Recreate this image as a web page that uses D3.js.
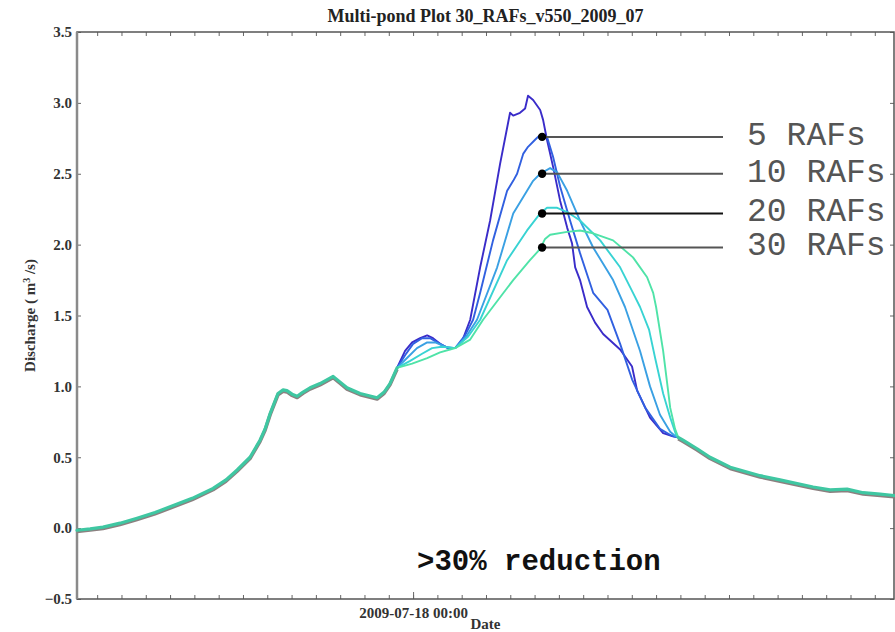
<!DOCTYPE html>
<html>
<head>
<meta charset="utf-8">
<script src="https://cdn.jsdelivr.net/npm/d3@7"></script>
<style>
  body { margin: 0; background: #fff; }
  .tick text { font-family: "Liberation Serif", serif; font-weight: bold; font-size: 15px; fill: #333; }
</style>
</head>
<body>
<div id="chart"></div>
<script>
const title = "Multi-pond Plot 30_RAFs_v550_2009_07";
const yTicks = [-0.5, 0, 0.5, 1, 1.5, 2, 2.5, 3, 3.5];
const midnight = new Date(2009, 6, 18, 0, 0); // the one labelled date tick
const hourRange = [-13.83, 19.79]; // hours relative to midnight

// shared hydrograph before the ponds take effect (hours, m3/s)
const beforeHours = [-13.83, -13.29, -12.76, -12.06, -11.36, -10.62, -10.0, -9.09, -8.23, -7.70, -7.24, -6.71, -6.30, -6.09, -5.88, -5.56, -5.35, -5.19, -4.98, -4.77, -4.53, -4.24, -3.83, -3.29, -3.00, -2.72, -2.18, -1.48, -1.19, -0.95, -0.66];
const beforeQ = [-0.015, -0.005, 0.007, 0.035, 0.07, 0.11, 0.15, 0.21, 0.28, 0.34, 0.41, 0.50, 0.62, 0.70, 0.81, 0.95, 0.975, 0.97, 0.945, 0.93, 0.96, 0.99, 1.02, 1.07, 1.03, 0.99, 0.95, 0.92, 0.96, 1.02, 1.13];

// shared recession after the curves join again
const afterHours = [10.91, 11.11, 11.69, 12.22, 13.05, 14.28, 15.10, 16.46, 17.16, 17.86, 18.52, 19.22, 19.79];
const afterQ = [0.64, 0.62, 0.56, 0.50, 0.43, 0.37, 0.34, 0.29, 0.27, 0.275, 0.25, 0.24, 0.23];

// storm peak, no RAFs
const hours0 = [-0.33, -0.04, 0.29, 0.58, 0.82, 1.11, 1.44, 1.73, 2.02, 2.35, 2.76, 3.17, 3.58, 3.91, 3.99, 4.12, 4.40, 4.61, 4.73, 4.94, 5.23, 5.35, 5.51, 5.76, 6.05, 6.34, 6.54, 6.67, 6.87, 7.16, 7.49, 7.82, 8.52, 9.01, 9.22, 9.75, 10.29, 10.66];
const q0 = [1.25, 1.31, 1.34, 1.36, 1.34, 1.30, 1.27, 1.27, 1.32, 1.47, 1.84, 2.17, 2.57, 2.86, 2.93, 2.91, 2.93, 2.96, 3.05, 3.02, 2.95, 2.88, 2.74, 2.55, 2.31, 2.12, 2.01, 1.84, 1.75, 1.56, 1.45, 1.37, 1.26, 1.14, 0.97, 0.78, 0.67, 0.65];

// 5 RAFs
const hours5 = [-0.33, 0.0, 0.37, 0.70, 1.11, 1.44, 1.73, 2.14, 2.47, 2.76, 3.29, 3.87, 4.12, 4.28, 4.53, 4.73, 5.02, 5.14, 5.35, 5.51, 5.76, 6.05, 6.46, 6.87, 7.41, 8.00, 8.52, 9.01, 9.55, 10.16, 10.66];
const q5 = [1.22, 1.30, 1.34, 1.34, 1.30, 1.27, 1.27, 1.36, 1.47, 1.66, 2.03, 2.38, 2.45, 2.50, 2.64, 2.69, 2.74, 2.76, 2.78, 2.76, 2.62, 2.41, 2.17, 1.94, 1.66, 1.54, 1.30, 1.05, 0.85, 0.70, 0.65];

// 10 RAFs
const hours10 = [-0.25, 0.16, 0.58, 0.91, 1.32, 1.73, 2.22, 2.63, 3.46, 4.12, 4.69, 4.94, 5.23, 5.64, 5.93, 6.34, 6.87, 7.41, 8.23, 8.72, 9.34, 9.75, 10.16, 10.58, 10.78];
const q10 = [1.20, 1.27, 1.31, 1.31, 1.28, 1.27, 1.36, 1.47, 1.84, 2.22, 2.38, 2.45, 2.50, 2.54, 2.51, 2.38, 2.17, 1.98, 1.75, 1.56, 1.25, 1.00, 0.80, 0.68, 0.65];

// 20 RAFs
const hours20 = [-0.12, 0.37, 0.78, 1.19, 1.73, 2.26, 2.76, 3.87, 4.69, 5.23, 5.51, 5.93, 6.34, 6.87, 7.70, 8.52, 9.05, 9.34, 9.71, 9.96, 10.29, 10.58, 10.82];
const q20 = [1.18, 1.23, 1.27, 1.28, 1.27, 1.35, 1.47, 1.89, 2.10, 2.22, 2.26, 2.26, 2.23, 2.17, 2.03, 1.84, 1.66, 1.56, 1.40, 1.20, 0.95, 0.78, 0.66];

// 30 RAFs
const hours30 = [-0.04, 0.58, 1.11, 1.52, 1.73, 2.35, 2.88, 4.12, 4.81, 5.23, 5.43, 5.64, 6.34, 6.87, 7.41, 8.23, 9.05, 9.63, 9.88, 10.0, 10.29, 10.58, 10.78];
const q30 = [1.16, 1.20, 1.24, 1.26, 1.27, 1.33, 1.47, 1.75, 1.89, 1.97, 2.04, 2.07, 2.09, 2.10, 2.08, 2.03, 1.91, 1.77, 1.66, 1.56, 1.25, 0.85, 0.70];

const seriesHours = [hours0, hours5, hours10, hours20, hours30];
const seriesQ = [q0, q5, q10, q20, q30];
const seriesColors = ["#3a2cc9", "#3160e0", "#3aa0e3", "#38d3d3", "#4fe3a8"];

// annotation
const labelNames = ["5 RAFs", "10 RAFs", "20 RAFs", "30 RAFs"];
const labelQ = [2.76, 2.50, 2.22, 1.98];
const labelHour = 5.31;

const W = 895, H = 632;
const plot = { left: 77, right: 894, top: 32, bottom: 599 };

const toDate = (h) => new Date(+midnight + h * 3600e3);
const zip = (hs, qs) => hs.map((h, i) => [h, qs[i]]);

const svg = d3.select("#chart").append("svg")
  .attr("width", W).attr("height", H)
  .style("font-family", "Liberation Serif, serif");

const x = d3.scaleTime().domain(hourRange.map(toDate)).range([plot.left, plot.right]);
const y = d3.scaleLinear().domain([-0.5, 3.5]).range([plot.bottom, plot.top]);

const line = d3.line()
  .x((d) => x(toDate(d[0])))
  .y((d) => y(d[1]));

// axes, ticks pointing inward
svg.append("g").attr("transform", `translate(${plot.left},0)`)
  .call(d3.axisLeft(y).tickValues(yTicks).tickSize(-4).tickPadding(5).tickFormat(d3.format(".1f")));
svg.append("g").attr("transform", `translate(${plot.right},0)`)
  .call(d3.axisRight(y).tickValues(yTicks).tickSize(-4).tickFormat(""));
svg.append("g").attr("transform", `translate(0,${plot.bottom})`)
  .call(d3.axisBottom(x).ticks(d3.timeHour.every(1)).tickSize(-4).tickFormat(""));
svg.append("g").attr("transform", `translate(0,${plot.bottom})`)
  .call(d3.axisBottom(x).tickValues([midnight]).tickSize(-7).tickPadding(8)
    .tickFormat(d3.timeFormat("%Y-%m-%d %H:%M")));
svg.append("g").attr("transform", `translate(0,${plot.top})`)
  .call(d3.axisTop(x).ticks(d3.timeHour.every(1)).tickSize(-4).tickFormat(""));

svg.selectAll(".domain").remove();
svg.selectAll(".tick line").attr("stroke", "#666").attr("stroke-width", 1);

// frame
svg.append("rect")
  .attr("x", plot.left).attr("y", plot.top)
  .attr("width", plot.right - plot.left).attr("height", plot.bottom - plot.top)
  .attr("fill", "none").attr("stroke", "#555").attr("stroke-width", 1.5);
svg.append("line")
  .attr("x1", plot.left).attr("x2", plot.left)
  .attr("y1", plot.top).attr("y2", plot.bottom)
  .attr("stroke", "#8a8a8a").attr("stroke-width", 2.5);

// diverging curves
const before = zip(beforeHours, beforeQ);
const after = zip(afterHours, afterQ);
seriesHours.forEach((hs, i) => {
  const pts = [before[before.length - 1], ...zip(hs, seriesQ[i]), after[0]];
  svg.append("path")
    .datum(pts)
    .attr("d", line)
    .attr("fill", "none")
    .attr("stroke", seriesColors[i])
    .attr("stroke-width", 1.9)
    .attr("stroke-linejoin", "round");
});

// shared parts, drawn thick with a grey edge
[before, after].forEach((pts) => {
  svg.append("path").datum(pts).attr("d", line)
    .attr("transform", "translate(0,1.3)")
    .attr("fill", "none").attr("stroke", "#8c8080").attr("stroke-width", 3.5)
    .attr("stroke-linejoin", "round");
  svg.append("path").datum(pts).attr("d", line)
    .attr("fill", "none").attr("stroke", "#3fc7a2").attr("stroke-width", 3.2)
    .attr("stroke-linejoin", "round").attr("stroke-linecap", "round");
});

// legend pointers
const labelX = x(toDate(labelHour));
labelNames.forEach((name, i) => {
  const yy = y(labelQ[i]);
  svg.append("line")
    .attr("x1", labelX).attr("x2", 723).attr("y1", yy).attr("y2", yy)
    .attr("stroke", i === 2 ? "#111" : "#555").attr("stroke-width", 2);
  svg.append("circle").attr("cx", labelX).attr("cy", yy).attr("r", 4.2).attr("fill", "#000");
  svg.append("text")
    .attr("x", 747).attr("y", yy + 8)
    .attr("font-family", "Liberation Mono, monospace")
    .attr("font-size", 33).attr("fill", "#555")
    .text(name);
});

svg.append("text")
  .attr("x", 417).attr("y", 570)
  .attr("font-family", "Liberation Mono, monospace")
  .attr("font-weight", "bold").attr("font-size", 29).attr("fill", "#111")
  .text(">30% reduction");

// titles
svg.append("text")
  .attr("x", (plot.left + plot.right) / 2).attr("y", 22)
  .attr("text-anchor", "middle").attr("font-weight", "bold").attr("font-size", 18).attr("fill", "#222")
  .text(title);

svg.append("text")
  .attr("x", (plot.left + plot.right) / 2).attr("y", 629)
  .attr("text-anchor", "middle").attr("font-weight", "bold").attr("font-size", 15).attr("fill", "#333")
  .text("Date");

const yl = svg.append("text")
  .attr("transform", `translate(35,${(plot.top + plot.bottom) / 2}) rotate(-90)`)
  .attr("text-anchor", "middle").attr("font-weight", "bold").attr("font-size", 15).attr("fill", "#333");
yl.append("tspan").text("Discharge ( m");
yl.append("tspan").attr("font-size", 10).attr("baseline-shift", "super").text("3");
yl.append("tspan").text(" /s)");
</script>
</body>
</html>
